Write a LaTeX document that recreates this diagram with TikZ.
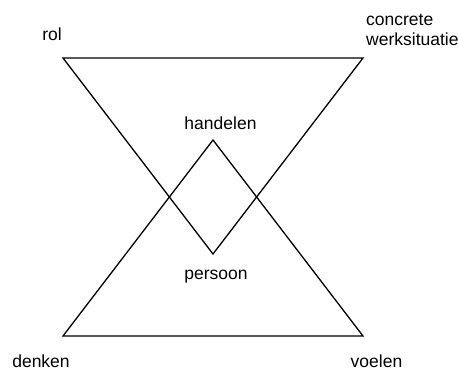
\documentclass[tikz,border=0pt]{standalone}
\usepackage{fontspec}
\setmainfont{Liberation Sans}
\begin{document}
\begin{tikzpicture}[x=1pt,y=-1pt,
  lbl/.style={inner sep=0pt,font=\fontsize{17.5}{20.5}\selectfont},
  tri/.style={draw=black,line width=1.3pt,line join=miter}]
\useasboundingbox (0,0) rectangle (459,371);
% triangle corners
\coordinate (tl) at (63,58);
\coordinate (tr) at (363,58);
\coordinate (bm) at (213,254);
\coordinate (bl) at (63,336);
\coordinate (br) at (363,336);
\coordinate (ap) at (213,140);
\draw[tri] (tl) -- (tr) -- (bm) -- cycle;
\draw[tri] (bl) -- (br) -- (ap) -- cycle;
% labels
\node[lbl,anchor=base] (rol) at (52,41) {rol};
\node[lbl,anchor=base west,align=left] (cw) at (366,46) {concrete\\werksituatie};
\node[lbl,anchor=base] (hand) at (220.5,130) {handelen};
\node[lbl,anchor=base] (pers) at (216,280) {persoon};
\node[lbl,anchor=base] (denk) at (41,368) {denken};
\node[lbl,anchor=base] (voel) at (376.5,368) {voelen};
\end{tikzpicture}
\end{document}
